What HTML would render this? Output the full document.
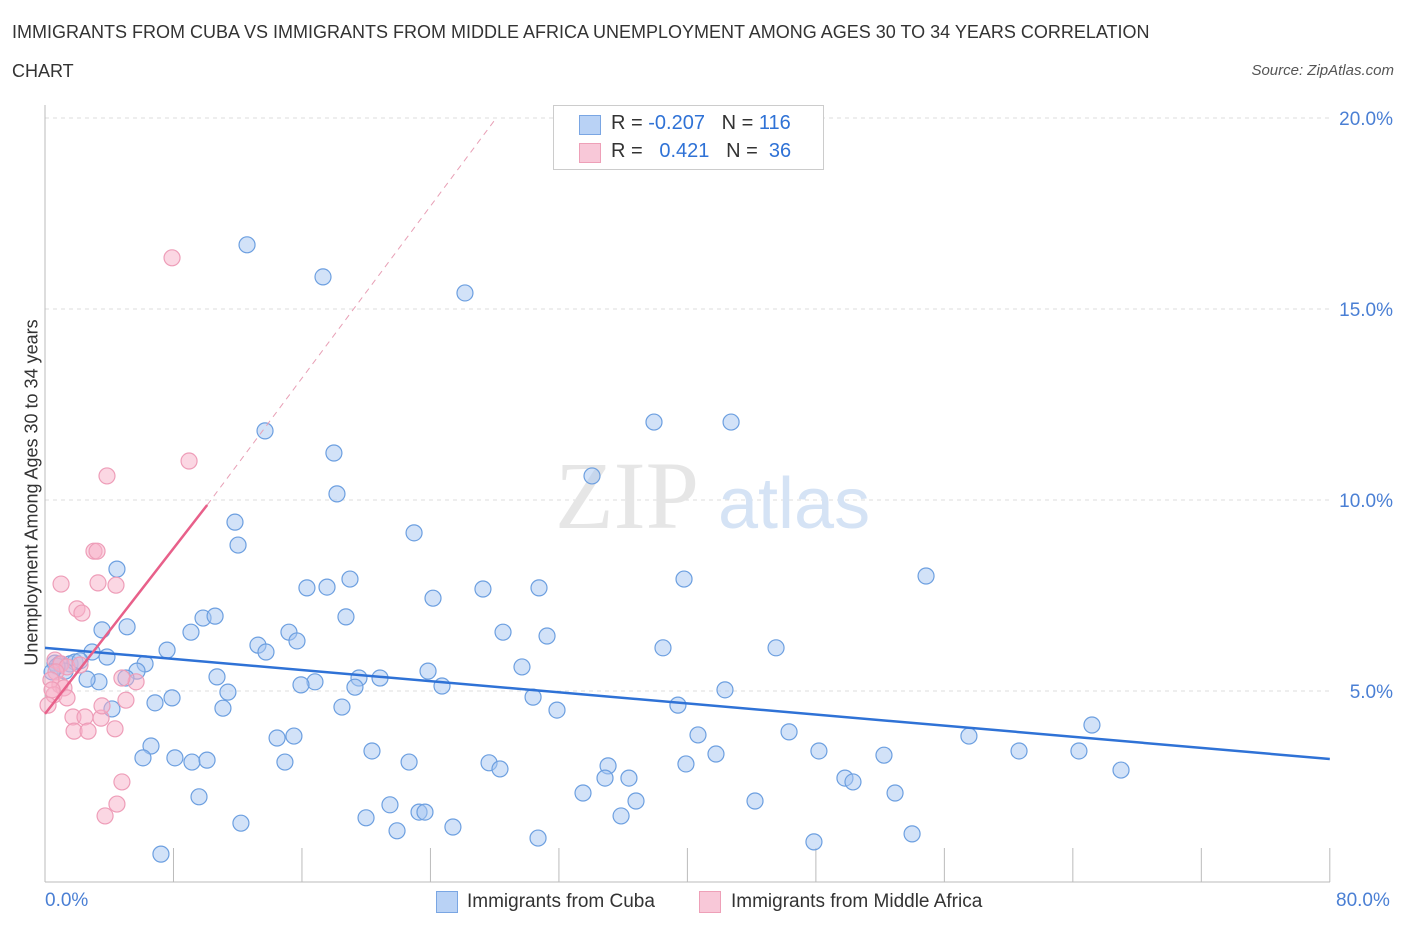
<!DOCTYPE html>
<html><head><meta charset="utf-8"><style>
body{margin:0;background:#fff;font-family:"Liberation Sans",sans-serif;}
#wrap{position:relative;width:1406px;height:930px;overflow:hidden;}
.t{position:absolute;white-space:nowrap;}
</style></head><body>
<div id="wrap">
<div class="t" style="left:12px;top:22px;font-size:18px;color:#333;">IMMIGRANTS FROM CUBA VS IMMIGRANTS FROM MIDDLE AFRICA UNEMPLOYMENT AMONG AGES 30 TO 34 YEARS CORRELATION</div>
<div class="t" style="left:12px;top:61px;font-size:18px;color:#333;">CHART</div>
<div class="t" style="right:12px;top:62px;font-size:15px;color:#555;font-style:italic;">Source: ZipAtlas.com</div>
<svg id="svg" width="1406" height="930" style="position:absolute;left:0;top:0"></svg>
</div>
<script>
const blueX=[12.58,17.31,26.15,13.70,37.92,42.72,17.99,34.06,18.18,11.83,12.02,22.98,4.48,18.99,16.31,17.56,27.27,30.76,39.79,54.86,24.16,9.84,10.59,18.74,3.55,5.11,9.09,15.19,28.52,31.26,7.60,13.26,13.76,15.69,38.48,45.52,3.86,2.93,6.23,5.73,29.70,23.85,10.71,16.81,15.94,20.86,19.55,19.30,24.72,3.36,2.62,5.04,11.39,7.91,6.85,11.08,30.39,42.34,18.49,31.88,39.41,65.19,4.17,40.66,14.45,15.50,46.33,57.53,6.60,20.36,48.19,60.65,64.38,6.10,8.09,9.15,10.09,14.94,41.78,52.24,22.67,27.65,28.33,39.91,35.06,34.87,36.36,49.81,50.31,67.00,33.50,52.93,9.59,21.48,36.80,44.21,23.29,23.66,19.99,35.87,12.20,21.92,25.40,53.99,30.70,47.88,7.22,0.62,0.93,1.56,1.87,2.18,1.25,0.75,0.44];
const blueY=[16.68,15.84,15.42,11.81,12.04,12.04,11.23,10.63,10.16,9.42,8.82,9.14,8.19,7.93,7.70,7.72,7.67,7.70,7.93,8.01,7.43,6.91,6.96,6.94,6.60,6.68,6.54,6.54,6.54,6.44,6.07,6.20,6.02,6.31,6.13,6.13,5.89,6.02,5.71,5.52,5.63,5.52,5.37,5.24,5.16,5.34,5.34,5.10,5.13,5.24,5.31,5.34,4.97,4.82,4.69,4.55,4.84,5.03,4.58,4.50,4.63,4.11,4.53,3.85,3.77,3.82,3.93,3.82,3.56,3.43,3.43,3.43,3.43,3.25,3.25,3.14,3.19,3.14,3.35,3.32,3.14,3.12,2.96,3.09,3.04,2.72,2.72,2.72,2.62,2.93,2.33,2.33,2.23,2.02,2.12,2.12,1.83,1.83,1.68,1.73,1.54,1.34,1.44,1.26,1.15,1.05,0.73,5.73,5.71,5.71,5.76,5.79,5.52,5.65,5.50];
const pinkX=[7.91,3.86,8.97,3.05,3.24,1.00,3.30,4.42,1.99,2.30,0.62,1.00,1.37,2.18,0.68,0.93,0.37,1.18,0.56,1.37,5.67,4.79,5.04,1.74,2.49,3.49,1.81,2.68,4.36,3.55,4.79,4.48,3.74,0.44,0.19];
const pinkY=[16.34,10.63,11.02,8.66,8.66,7.80,7.83,7.77,7.15,7.04,5.81,5.71,5.63,5.68,5.50,5.16,5.29,5.08,4.90,4.82,5.24,5.34,4.76,4.32,4.32,4.29,3.95,3.95,4.01,4.61,2.62,2.04,1.73,5.03,4.63];
const blueTrend=[[0,6.13],[80,3.22]];
const pinkTrend=[[0,4.4],[10.1,9.87]];
const pinkDash=[[10.1,9.87],[28.1,20]];
const yTicks=[5,10,15,20];
const yTickLabels=["5.0%","10.0%","15.0%","20.0%"];
const xTickVals=[0,8,16,24,32,40,48,56,64,72,80];
const X=v=>45+v*16.06, Y=v=>882-v*38.2;
const svg=document.getElementById('svg');const NS='http://www.w3.org/2000/svg';
function mk(t,a,p){const e=document.createElementNS(NS,t);for(const k in a)e.setAttribute(k,a[k]);(p||svg).appendChild(e);return e;}
// grid
yTicks.forEach((v,i)=>{
 const g=mk('line',{x1:45,x2:1330,y1:Y(v),y2:Y(v),stroke:'#ddd','stroke-dasharray':'4,4'});
 
 
 const t=mk('text',{x:1393,y:Y(v)+7,'text-anchor':'end','font-size':19,fill:'#4a7fd4','font-family':'Liberation Sans'});t.textContent=yTickLabels[i];
 
 
});
const ax=mk('line',{x1:45,x2:45,y1:105,y2:882,stroke:'#bbb'});


const bx=mk('line',{x1:45,x2:1330,y1:882,y2:882,stroke:'#bbb'});


xTickVals.forEach(v=>{const l=mk('line',{x1:X(v),x2:X(v),y1:848,y2:882,stroke:'#bbb'});
 
 });
// watermark
const wm=mk('text',{x:555,y:528,'font-size':96,fill:'#e6e6e6','font-family':'Liberation Serif'});wm.textContent='ZIP';


const wm2=mk('text',{x:718,y:528,'font-size':72,fill:'#d5e3f5','font-family':'Liberation Sans'});wm2.textContent='atlas';


// points
blueX.forEach((v,i)=>{const c=mk('circle',{cx:X(v),cy:Y(blueY[i]),r:8,fill:'rgba(165,198,242,0.5)',stroke:'#6c9fe0','stroke-width':1.2});
 
 });
pinkX.forEach((v,i)=>{const c=mk('circle',{cx:X(v),cy:Y(pinkY[i]),r:8,fill:'rgba(247,175,200,0.5)',stroke:'#ee9db8','stroke-width':1.2});
 
 });
const bl=mk('line',{x1:X(blueTrend[0][0]),y1:Y(blueTrend[0][1]),x2:X(blueTrend[1][0]),y2:Y(blueTrend[1][1]),stroke:'#2f72d6','stroke-width':2.5});


const pl=mk('line',{x1:X(pinkTrend[0][0]),y1:Y(pinkTrend[0][1]),x2:X(pinkTrend[1][0]),y2:Y(pinkTrend[1][1]),stroke:'#e8608a','stroke-width':2.5});


const pd=mk('line',{x1:X(pinkDash[0][0]),y1:Y(pinkDash[0][1]),x2:X(pinkDash[1][0]),y2:Y(pinkDash[1][1]),stroke:'#e8a0b6','stroke-width':1,'stroke-dasharray':'6,5'});


</script>
<div class="t" style="left:45px;top:890px;font-size:19px;color:#4a7fd4;">0.0%</div>
<div class="t" style="left:1336px;top:890px;font-size:19px;color:#4a7fd4;">80.0%</div>
<div class="t" style="left:-148px;top:482px;font-size:18px;color:#333;transform:rotate(-90deg);width:360px;text-align:center;">Unemployment Among Ages 30 to 34 years</div>
<div style="position:absolute;left:553px;top:105px;width:269px;height:63px;border:1px solid #ccc;background:#fff;font-size:20px;color:#333;">
 <div style="position:absolute;left:25px;top:9px;width:20px;height:18px;background:#b9d2f5;border:1px solid #7aa6e3;"></div>
 <div class="t" style="left:57px;top:6px;">R = <span style="color:#2f72d6">-0.207</span>&nbsp;&nbsp;&nbsp;N = <span style="color:#2f72d6">116</span></div>
 <div style="position:absolute;left:25px;top:37px;width:20px;height:18px;background:#f8c8d8;border:1px solid #eea0b8;"></div>
 <div class="t" style="left:57px;top:34px;">R = &nbsp;&nbsp;<span style="color:#2f72d6">0.421</span>&nbsp;&nbsp;&nbsp;N = &nbsp;<span style="color:#2f72d6">36</span></div>
</div>
<div style="position:absolute;left:436px;top:891px;width:20px;height:20px;background:#b9d2f5;border:1px solid #7aa6e3;"></div>
<div class="t" style="left:467px;top:891px;font-size:19px;color:#333;">Immigrants from Cuba</div>
<div style="position:absolute;left:699px;top:891px;width:20px;height:20px;background:#f8c8d8;border:1px solid #eea0b8;"></div>
<div class="t" style="left:731px;top:891px;font-size:19px;color:#333;">Immigrants from Middle Africa</div>
</body></html>
